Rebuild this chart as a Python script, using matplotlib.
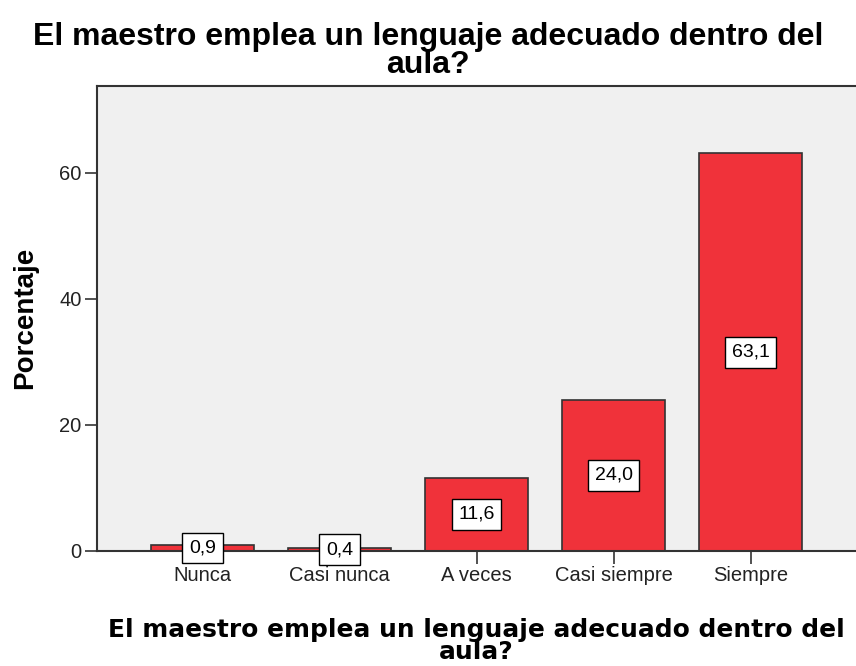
import matplotlib
matplotlib.use("Agg")
import matplotlib.pyplot as plt

categories = ["Nunca", "Casi nunca", "A veces", "Casi siempre", "Siempre"]
percentages = [0.9, 0.4, 11.6, 24.0, 63.1]
value_labels = ["0,9", "0,4", "11,6", "24,0", "63,1"]
y_ticks = [0, 20, 40, 60]
title_text = "El maestro emplea un lenguaje adecuado dentro del\naula?"

plt.rcParams['font.family'] = ['Liberation Sans', 'DejaVu Sans']

fig = plt.figure(figsize=(8.56, 6.66), dpi=100)
ax = fig.add_axes([97 / 856, 115 / 666, 759 / 856, 465 / 666])
ax.set_facecolor("#f0f0f0")

x = list(range(len(categories)))
ax.bar(x, percentages, width=0.75, color="#f0323a", edgecolor="#333333", linewidth=1.2, zorder=2)

for xi, v, lab in zip(x, percentages, value_labels):
    ax.text(xi, v / 2, lab, ha="center", va="center", fontsize=14, color="black", zorder=3,
            bbox=dict(boxstyle="square,pad=0.35", facecolor="white", edgecolor="black", linewidth=1))

ax.set_xlim(-0.77, 4.77)
ax.set_ylim(0, 73.8)
ax.set_xticks(x)
ax.set_xticklabels(categories)
ax.set_yticks(y_ticks)
ax.tick_params(axis="both", direction="out", length=9, width=1.2, color="#333333",
               labelsize=14.5, labelcolor="#222222", pad=2)

for side in ["left", "bottom", "top"]:
    ax.spines[side].set_color("#333333")
    ax.spines[side].set_linewidth(1.5)
ax.spines["right"].set_visible(False)

fig.text(25 / 856, 1 - 318 / 666, "Porcentaje", rotation=90, ha="center", va="center",
         fontsize=20, fontweight="bold")
fig.text(476 / 856, 1 - 641 / 666, title_text, ha="center", va="center", fontsize=17.9,
         fontweight="bold", family="DejaVu Sans", linespacing=0.85)
fig.text(0.5, 1 - 51 / 666, title_text, ha="center", va="center", fontsize=23,
         fontweight="bold", linespacing=0.95)

fig.savefig("out.png", dpi=100)
